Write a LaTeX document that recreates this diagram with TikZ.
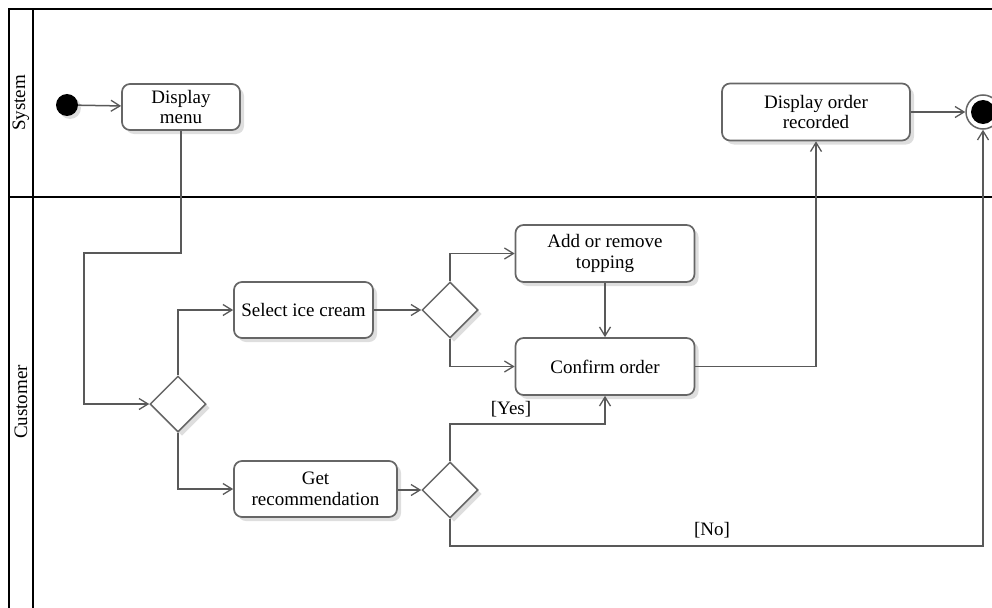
\documentclass[tikz,border=0pt]{standalone}
\usepackage{fontspec}
\setmainfont{Liberation Serif}
\usetikzlibrary{shapes.geometric,arrows.meta,shadows}
\begin{document}
\begin{tikzpicture}[x=1pt,y=-1pt,
  font=\fontsize{19}{20.5}\selectfont,
  arr/.style={draw=black!65,line width=1.5pt,-{Straight Barb[length=9pt,width=11pt,line width=1.3pt]}},
  act/.style={draw=black!60,line width=1.7pt,rounded corners=8pt,fill=white,align=center,inner sep=0pt,
    drop shadow={shadow xshift=4pt,shadow yshift=-4pt,fill=black!13,opacity=1}},
  dec/.style={diamond,aspect=1,draw=black!60,line width=1.5pt,fill=white,inner sep=0pt,minimum width=56pt,minimum height=56pt,
    drop shadow={shadow xshift=4pt,shadow yshift=-4pt,fill=black!13,opacity=1}},
  lane/.style={draw=black,line width=2pt},
  lbl/.style={rotate=90,inner sep=0pt}]
\useasboundingbox (0,0) rectangle (992,607);
% swimlane frame
\draw[lane] (9,620) -- (9,9) -- (1000,9);
\draw[lane] (33,9) -- (33,620);
\draw[lane] (9,197) -- (1000,197);
\node[lbl] (sys) at (21,103) {System};
\node[lbl] (cus) at (21,402) {Customer};
% nodes
\node[circle,fill=black,minimum size=22pt,inner sep=0pt,
  drop shadow={shadow xshift=3pt,shadow yshift=-3pt,fill=black!13,opacity=1}] (start) at (67,105) {};
\node[act,minimum width=118pt,minimum height=46pt] (dm) at (181,107) {Display\\menu};
\node[act,minimum width=188pt,minimum height=57pt] (dor) at (816,112) {Display order\\recorded};
\node[circle,draw=black!60,line width=1.5pt,fill=white,minimum size=34pt,inner sep=0pt] (final) at (983,112) {};
\node[circle,fill=black,minimum size=24pt,inner sep=0pt] (finalin) at (983,112) {};
\node[dec] (d1) at (178,404) {};
\node[act,minimum width=139pt,minimum height=56pt] (sel) at (303.5,310) {Select ice cream};
\node[act,minimum width=163pt,minimum height=56pt] (rec) at (315.5,489) {Get\\recommendation};
\node[dec] (d2) at (450,310) {};
\node[dec] (d3) at (450,490) {};
\node[act,minimum width=179pt,minimum height=57pt] (add) at (605,253.5) {Add or remove\\topping};
\node[act,minimum width=179pt,minimum height=57pt] (conf) at (605,366.5) {Confirm order};
\coordinate (m1) at (84,253);
\coordinate (yesc) at (605,424);
\coordinate (noc) at (983,546);
% connectors
\draw[arr] (start) -- (dm);
\draw[arr] (dm.south) |- (m1) |- (d1.west);
\draw[arr] (d1.north) |- (sel.west);
\draw[arr] (d1.south) |- (rec.west);
\draw[arr] (sel.east) -- (d2.west);
\draw[arr] (rec.east |- d3) -- (d3.west);
\draw[arr] (d2.north) |- (add.west);
\draw[arr] (d2.south) |- (conf.west);
\draw[arr] (add) -- (conf);
\draw[arr] (conf.east) -| (dor.south);
\draw[arr] (d3.north) |- (yesc) -- (conf.south);
\draw[arr] (d3.south) |- (noc) -- (final.south);
\draw[arr] (dor) -- (final);
\node (yes) at (511,409) {[Yes]};
\node (no) at (712,530) {[No]};
\end{tikzpicture}
\end{document}
